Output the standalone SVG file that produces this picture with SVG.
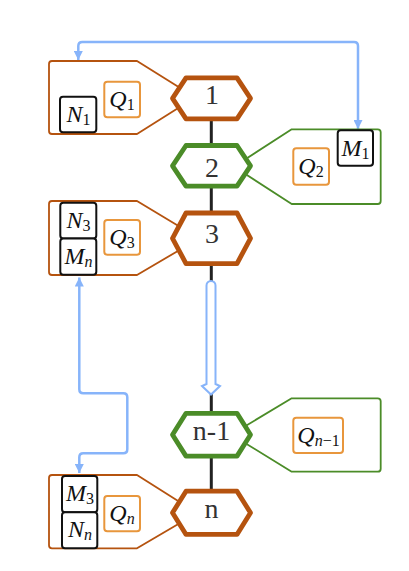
<svg xmlns="http://www.w3.org/2000/svg" width="409" height="571" viewBox="0 0 409 571">
<style>
.bg{fill:#ffffff}
.hexb{fill:#ffffff;stroke:#b5530f;stroke-width:4.8;stroke-linejoin:round}
.hexg{fill:#ffffff;stroke:#4b8c28;stroke-width:4.8;stroke-linejoin:round}
.calb{fill:none;stroke:#b5530f;stroke-width:1.8;stroke-linejoin:round}
.calg{fill:none;stroke:#4b8c28;stroke-width:1.8;stroke-linejoin:round}
.kbox{fill:#ffffff;stroke:#111111;stroke-width:2}
.qbox{fill:#ffffff;stroke:#e8963c;stroke-width:2}
.lbl{font-family:"Liberation Serif","DejaVu Serif",serif;font-size:28px;fill:#333333;text-anchor:middle}
.math{font-family:"Liberation Serif","DejaVu Serif",serif;font-size:24px;fill:#111111;text-anchor:middle}
.it{font-style:italic}
.sub{font-size:16px;font-style:normal}
.subi{font-size:16px;font-style:italic}
.blue{fill:none;stroke:#87b4fa;stroke-width:2.5;stroke-linejoin:round}
.spine{stroke:#222222;stroke-width:3;fill:none}
.hollow{fill:#ffffff;stroke:#87b4fa;stroke-width:2;stroke-linejoin:miter}
</style>
<defs>
<marker id="ah" viewBox="0 0 10 10" refX="10" refY="5" markerWidth="10" markerHeight="9" orient="auto-start-reverse" markerUnits="userSpaceOnUse">
<path d="M0,0 L10,5 L0,10 Z" fill="#87b4fa"/>
</marker>
</defs>
<rect class="bg" x="0" y="0" width="409" height="571"/>

<g id="connectors">
<line class="spine" x1="211.3" y1="118" x2="211.3" y2="492"/>
<path class="hollow" d="M206.5,384 L206.5,285.5 A4.5,4.5 0 0 1 215.5,285.5 L215.5,384 L220,386 L211,394.5 L202,386 Z"/>
<path class="blue" marker-start="url(#ah)" marker-end="url(#ah)" d="M78.3,60 V46 Q78.3,42 82.3,42 H354 Q358,42 358,46 V129"/>
<path class="blue" marker-start="url(#ah)" marker-end="url(#ah)" d="M79.3,277.5 V389.3 Q79.3,393.3 83.3,393.3 H123.3 Q127.3,393.3 127.3,397.3 V449.3 Q127.3,453.3 123.3,453.3 H83.3 Q79.3,453.3 79.3,457.3 V473"/>
</g>

<g id="node-1">
<path class="calb" d="M137,61 H52 Q49,61 49,64 V131 Q49,134 52,134 H137 L185,103.8 L185,91 Z"/>
<path class="hexb" d="M172.5,98.4 L186,77.9 L237,77.9 L250.5,98.4 L237,118.9 L186,118.9 Z"/>
<text class="lbl" x="212" y="103.5">1</text>
<rect class="kbox" x="60" y="96.7" width="36.3" height="35.6" rx="3"/>
<text class="math" x="78.5" y="121.7"><tspan class="it">N</tspan><tspan class="sub" dy="3">1</tspan></text>
<rect class="qbox" x="104.3" y="81.7" width="35.7" height="35.6" rx="3"/>
<text class="math" x="122" y="106.5"><tspan class="it">Q</tspan><tspan class="sub" dy="3">1</tspan></text>
</g>

<g id="node-2">
<path class="calg" d="M291.7,129.3 H377.7 Q380.7,129.3 380.7,132.3 V201 Q380.7,204 377.7,204 H291.7 L238,169.3 L238,164 Z"/>
<path class="hexg" d="M172.5,165.8 L186,145.5 L237,145.5 L250.5,165.8 L237,186.1 L186,186.1 Z"/>
<text class="lbl" x="212" y="176.5">2</text>
<rect class="kbox" x="337.7" y="130.3" width="35.3" height="35.4" rx="3"/>
<text class="math" x="355.5" y="155.7"><tspan class="it">M</tspan><tspan class="sub" dy="3">1</tspan></text>
<rect class="qbox" x="293.3" y="148.3" width="35.7" height="36.4" rx="3"/>
<text class="math" x="311" y="173.5"><tspan class="it">Q</tspan><tspan class="sub" dy="3">2</tspan></text>
</g>

<g id="node-3">
<path class="calb" d="M137,201 H52 Q49,201 49,204 V272 Q49,275 52,275 H137 L186,246.2 L186,230.6 Z"/>
<path class="hexb" d="M172.5,238.3 L186,213 L237,213 L250.5,238.3 L237,263.6 L186,263.6 Z"/>
<text class="lbl" x="212" y="243.3">3</text>
<rect class="kbox" x="60.3" y="202.7" width="36" height="35.8" rx="3"/>
<text class="math" x="78.5" y="227.5"><tspan class="it">N</tspan><tspan class="sub" dy="3">3</tspan></text>
<rect class="kbox" x="60.3" y="238.5" width="36" height="36.2" rx="3"/>
<text class="math" x="78.5" y="263.8"><tspan class="it">M</tspan><tspan class="subi" dy="3">n</tspan></text>
<rect class="qbox" x="104.3" y="220" width="35.7" height="34.7" rx="3"/>
<text class="math" x="122" y="244.5"><tspan class="it">Q</tspan><tspan class="sub" dy="3">3</tspan></text>
</g>

<g id="node-n-1">
<path class="calg" d="M291.7,398.3 H377.7 Q380.7,398.3 380.7,401.3 V468.7 Q380.7,471.7 377.7,471.7 H291.7 L238,438.7 L238,430.5 Z"/>
<path class="hexg" d="M172.5,434.7 L186,413.3 L237,413.3 L250.5,434.7 L237,456.1 L186,456.1 Z"/>
<text class="lbl" x="211.5" y="440">n-1</text>
<rect class="qbox" x="293.3" y="417.7" width="49.7" height="35.3" rx="3"/>
<text class="math" x="318.5" y="442.5"><tspan class="it">Q</tspan><tspan class="subi" dy="3">n</tspan><tspan class="sub">−1</tspan></text>
</g>

<g id="node-n">
<path class="calb" d="M137,475 H52 Q49,475 49,478 V545.3 Q49,548.3 52,548.3 H137 L186,519.5 L186,505.9 Z"/>
<path class="hexb" d="M172.5,512.8 L186,491.2 L237,491.2 L250.5,512.8 L237,534.4 L186,534.4 Z"/>
<text class="lbl" x="211.5" y="518.3">n</text>
<rect class="kbox" x="62" y="476" width="35.3" height="36.3" rx="3"/>
<text class="math" x="80" y="501"><tspan class="it">M</tspan><tspan class="sub" dy="3">3</tspan></text>
<rect class="kbox" x="62" y="512.3" width="35.3" height="36" rx="3"/>
<text class="math" x="80" y="537.3"><tspan class="it">N</tspan><tspan class="subi" dy="3">n</tspan></text>
<rect class="qbox" x="104.3" y="496" width="35.7" height="35.3" rx="3"/>
<text class="math" x="122" y="520.6"><tspan class="it">Q</tspan><tspan class="subi" dy="3">n</tspan></text>
</g>
</svg>
